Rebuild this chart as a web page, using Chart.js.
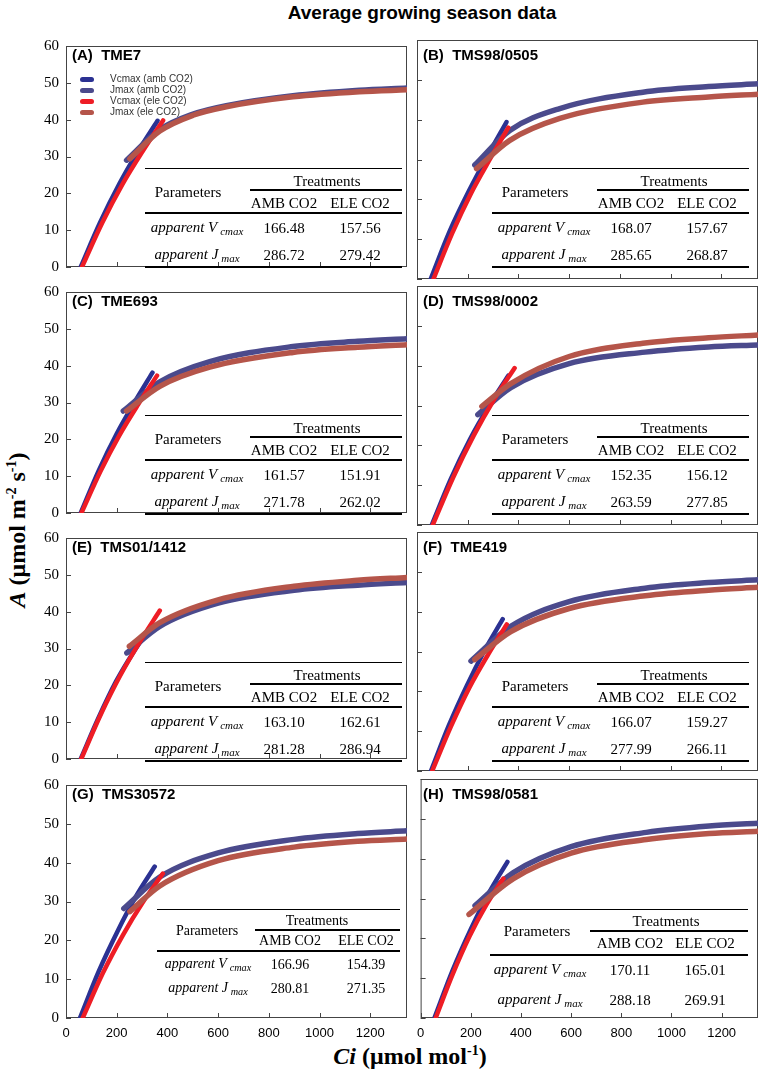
<!DOCTYPE html>
<html>
<head>
<meta charset="utf-8">
<script src="https://cdn.jsdelivr.net/npm/chart.js@4.4.1/dist/chart.umd.min.js"></script>
<style>
  body { margin: 0; background: #fff; }
  #wrap { position: relative; width: 762px; height: 1069px; overflow: hidden; font-family: "Liberation Serif", "Times New Roman", serif; color: #000; }
  canvas { position: absolute; }
  .c { position: absolute; white-space: nowrap; transform: translate(-50%, -50%); line-height: 1; }
  .rule { position: absolute; background: #000; }
  .tb { position: absolute; }
  .it { font-style: italic; }
  .sb { font-style: italic; font-size: 0.73em; position: relative; top: 0.27em; margin-left: 0.27em; }
  .plabel { position: absolute; font: bold 15px "Liberation Sans", Arial, sans-serif; white-space: pre; }
  .leg { position: absolute; font: 10px "Liberation Sans", Arial, sans-serif; color: #333; white-space: nowrap; }
  .legline { position: absolute; height: 5px; border-radius: 3px; }
  .title { position: absolute; font: bold 19px "Liberation Sans", Arial, sans-serif; white-space: nowrap; }
  .axt { position: absolute; font: bold 24px "Liberation Serif", "Times New Roman", serif; white-space: nowrap; }
  .axt sup { font-size: 14px; line-height: 0; }
</style>
</head>
<body>
<div id="wrap">
  <div class="c title" style="left:422px;top:13px;">Average growing season data</div>
  <div class="c axt" style="left:17px;top:530px;transform:translate(-50%,-50%) rotate(-90deg);"><i>A</i> (&mu;mol m<sup>-2</sup> s<sup>-1</sup>)</div>
  <div class="c axt" style="left:410px;top:1056px;"><i>Ci</i> (&mu;mol mol<sup>-1</sup>)</div>
</div>
<script>
// panel names and table values
const panelNames = ['(A)  TME7', '(B)  TMS98/0505', '(C)  TME693', '(D)  TMS98/0002',
                    '(E)  TMS01/1412', '(F)  TME419', '(G)  TMS30572', '(H)  TMS98/0581'];
const seriesNames = ['Vcmax (amb CO2)', 'Jmax (amb CO2)', 'Vcmax (ele CO2)', 'Jmax (ele CO2)'];
const treatmentNames = ['AMB CO2', 'ELE CO2'];
const vcmaxAmb = [166.48, 168.07, 161.57, 152.35, 163.10, 166.07, 166.96, 170.11];
const vcmaxEle = [157.56, 157.67, 151.91, 156.12, 162.61, 159.27, 154.39, 165.01];
const jmaxAmb = [286.72, 285.65, 271.78, 263.59, 281.28, 277.99, 280.81, 288.18];
const jmaxEle = [279.42, 268.87, 262.02, 277.85, 286.94, 266.11, 271.35, 269.91];

const xTicks = [0, 200, 400, 600, 800, 1000, 1200];
const yTicks = [0, 10, 20, 30, 40, 50, 60];

// fitted curves, [Ci, A] per panel
const vcAmbCurves = [
  [[58,0],[134,12],[210,22.5],[285,31.5],[361,39.7]],
  [[54,0],[129,12],[204,22],[279,31],[353,39.4]],
  [[58,0],[129,11.5],[200,21.5],[270,30],[341,38.1]],
  [[58,0],[133,11.5],[209,21.5],[285,30],[360,37.5]],
  [[58,0],[127,11],[197,21],[266,29],[335,36]],
  [[55,0],[126,11.5],[197,21.5],[267,30.3],[338,38.1]],
  [[55,0],[129,12],[203,22.3],[276,31.3],[350,39]],
  [[55,0],[128,12],[201,22.4],[273,31.5],[346,39.2]]
];
const vcEleCurves = [
  [[63,0],[143,12],[223,22.5],[303,31.5],[383,39.8]],
  [[65,0],[139,11.5],[213,21.5],[287,30],[360,38]],
  [[61,0],[136,11.3],[210,21],[285,29.5],[359,37.3]],
  [[62,0],[143,12],[224,22.5],[304,31.5],[385,39.4]],
  [[60,0],[138,12.2],[215,22.8],[293,32],[370,40.3]],
  [[60,0],[134,11.2],[207,21],[281,29.3],[354,36.8]],
  [[66,0],[145,11.5],[224,21.3],[303,29.8],[382,37.2]],
  [[60,0],[128,11],[195,20.5],[263,28.5],[330,35]]
];
const jAmbCurves = [
  [[239,29],[370,37.3],[501,41.5],[632,43.8],[895,46.5],[1157,48],[1345,48.6]],
  [[228,28.6],[366,37.3],[563,42.8],[891,46.9],[1150,48.3],[1345,49]],
  [[226,27.7],[370,35.6],[567,41.1],[895,45.2],[1150,46.6],[1345,47.3]],
  [[240,27.7],[370,34.5],[600,40.5],[900,43.4],[1150,44.7],[1345,45.2]],
  [[240,28.8],[370,36],[600,42.3],[900,45.8],[1150,47.2],[1345,47.9]],
  [[213,27.6],[370,36.3],[600,42.5],[900,45.9],[1150,47.3],[1345,48]],
  [[228,28.2],[370,36.3],[600,42.5],[900,46],[1150,47.5],[1345,48.2]],
  [[217,28.2],[370,36.5],[600,43],[900,46.6],[1150,48.2],[1345,48.9]]
];
const jEleCurves = [
  [[252,29.4],[370,36.9],[501,41.2],[632,43.5],[895,46.2],[1157,47.6],[1345,48.1]],
  [[235,27.7],[366,34.8],[563,40.3],[891,44.4],[1150,45.7],[1345,46.4]],
  [[239,27.7],[370,34.4],[567,39.6],[895,43.6],[1150,45],[1345,45.7]],
  [[256,29.8],[370,35.5],[600,42.3],[900,45.7],[1150,47],[1345,47.7]],
  [[250,30.6],[370,37],[600,43.2],[900,46.9],[1150,48.5],[1345,49.3]],
  [[228,28],[370,35],[600,40.8],[900,44],[1150,45.4],[1345,46.1]],
  [[252,27.4],[370,34],[600,40.5],[900,44],[1150,45.5],[1345,46.1]],
  [[193,26],[370,35],[600,41.4],[900,44.8],[1150,46.3],[1345,46.9]]
];

const colors = ['#2b3192', '#4b4a8c', '#ee1d25', '#b5554a'];
const widths = [4.5, 5.5, 4.5, 5.5];

// layout
const plotLeft = [66, 417];
const plotTop = [40, 286, 532, 779];
const plotW = 341, plotH = 239;
const tblPos = [[145,168],[492,168],[145,415],[492,415],[145,662],[492,662],[157,909],[490,909]];
const tblStd = { W: 257, fs: 15, trX: 182, trY: 13, ulX: 105, ulY: 21, paX: 43, paY: 24, c1: 139, c2: 215,
                 hdY: 35, hrY: 44, lbX: 52, r1: 60, r2: 87, btY: 98 };
const tblG = { W: 243, fs: 14, trX: 160, trY: 12, ulX: 98, ulY: 20, paX: 50, paY: 22, c1: 133, c2: 209,
               hdY: 32, hrY: 41, lbX: 51, r1: 56, r2: 80, btY: null };
const tblH = { W: 258, fs: 15, trX: 176, trY: 12, ulX: 100, ulY: 21, paX: 47, paY: 22, c1: 140, c2: 215,
               hdY: 34, hrY: 45, lbX: 50, r1: 61, r2: 91, btY: null };

const wrap = document.getElementById('wrap');

const frameTicks = {
  id: 'frameTicks',
  beforeDatasetsDraw(chart) {
    const { ctx, chartArea: a, scales } = chart;
    ctx.save();
    ctx.strokeStyle = '#444';
    ctx.lineWidth = 1;
    ctx.strokeRect(a.left + 0.5, a.top + 0.5, a.right - a.left - 1, a.bottom - a.top - 1);
    ctx.beginPath();
    xTicks.forEach(v => {
      const px = Math.round(scales.x.getPixelForValue(v)) + 0.5;
      ctx.moveTo(px, a.bottom); ctx.lineTo(px, a.bottom - 5);
    });
    yTicks.forEach(v => {
      const py = Math.round(scales.y.getPixelForValue(v)) + 0.5;
      ctx.moveTo(a.left, py); ctx.lineTo(a.left + 5, py);
    });
    ctx.stroke();
    ctx.restore();
  }
};

function toPts(arr) { return arr.map(p => ({ x: p[0], y: p[1] })); }

function buildChart(i) {
  const col = i % 2, row = Math.floor(i / 2);
  const yw = col === 0 ? 66 : 8;
  const xh = row === 3 ? 30 : 4;
  const w = yw + plotW + 6, h = 10 + plotH + xh;
  const cv = document.createElement('canvas');
  cv.width = w; cv.height = h;
  cv.style.left = (plotLeft[col] - yw) + 'px';
  cv.style.top = (plotTop[row] - 10) + 'px';
  cv.style.width = w + 'px'; cv.style.height = h + 'px';
  wrap.appendChild(cv);

  // last-listed series draws on top
  const curves = [jEleCurves[i], vcEleCurves[i], jAmbCurves[i], vcAmbCurves[i]];
  const idx = [3, 2, 1, 0];
  new Chart(cv, {
    type: 'line',
    data: {
      datasets: curves.map((c, k) => ({
        label: seriesNames[idx[k]],
        data: toPts(c),
        borderColor: colors[idx[k]],
        borderWidth: widths[idx[k]],
        borderCapStyle: 'round',
        pointRadius: 0,
        cubicInterpolationMode: 'monotone',
        fill: false
      }))
    },
    options: {
      responsive: false,
      animation: false,
      events: [],
      layout: { padding: { left: 0, right: 6, top: 10, bottom: 0 } },
      plugins: { legend: { display: false }, tooltip: { enabled: false } },
      scales: {
        x: {
          type: 'linear', min: 0, max: 1345,
          afterBuildTicks: s => { s.ticks = xTicks.map(v => ({ value: v })); },
          afterFit: s => { s.height = xh; },
          grid: { display: false, drawTicks: false },
          border: { display: false },
          ticks: { display: row === 3, padding: 8, color: '#000', maxRotation: 0,
                   callback: v => String(v),
                   font: { family: 'Liberation Sans', size: 13 } }
        },
        y: {
          type: 'linear', min: 0, max: 60,
          afterBuildTicks: s => { s.ticks = yTicks.map(v => ({ value: v })); },
          afterFit: s => { s.width = yw; },
          grid: { display: false, drawTicks: false },
          border: { display: false },
          ticks: { display: col === 0, padding: 7, color: '#000',
                   callback: v => String(v),
                   font: { family: 'Liberation Serif', size: 15 } }
        }
      }
    },
    plugins: [frameTicks]
  });

  const lab = document.createElement('div');
  lab.className = 'plabel';
  lab.style.left = (plotLeft[col] + 6) + 'px';
  lab.style.top = (plotTop[row] + 6) + 'px';
  lab.textContent = panelNames[i];
  wrap.appendChild(lab);
}

function addEl(parent, cls, html, x, y) {
  const d = document.createElement('div');
  d.className = cls;
  d.innerHTML = html;
  d.style.left = x + 'px';
  d.style.top = y + 'px';
  parent.appendChild(d);
  return d;
}
function addRule(parent, x, y, w, t) {
  const d = document.createElement('div');
  d.className = 'rule';
  d.style.left = x + 'px'; d.style.top = y + 'px';
  d.style.width = w + 'px'; d.style.height = t + 'px';
  parent.appendChild(d);
}

function buildTable(i) {
  const [L, T] = tblPos[i];
  const s = i === 6 ? tblG : i === 7 ? tblH : tblStd;
  const tb = document.createElement('div');
  tb.className = 'tb';
  tb.style.left = L + 'px'; tb.style.top = T + 'px';
  tb.style.fontSize = s.fs + 'px';
  wrap.appendChild(tb);
  addRule(tb, 0, 0, s.W, 1);
  addEl(tb, 'c', 'Treatments', s.trX, s.trY);
  addRule(tb, s.ulX, s.ulY, s.W - s.ulX, 2);
  addEl(tb, 'c', 'Parameters', s.paX, s.paY);
  addEl(tb, 'c', treatmentNames[0], s.c1, s.hdY);
  addEl(tb, 'c', treatmentNames[1], s.c2, s.hdY);
  addRule(tb, 0, s.hrY, s.W, 2);
  addEl(tb, 'c', '<span class="it">apparent V</span><span class="sb">cmax</span>', s.lbX, s.r1 - 1);
  addEl(tb, 'c', vcmaxAmb[i].toFixed(2), s.c1, s.r1);
  addEl(tb, 'c', vcmaxEle[i].toFixed(2), s.c2, s.r1);
  addEl(tb, 'c', '<span class="it">apparent J</span><span class="sb">max</span>', s.lbX, s.r2 - 1);
  addEl(tb, 'c', jmaxAmb[i].toFixed(2), s.c1, s.r2);
  addEl(tb, 'c', jmaxEle[i].toFixed(2), s.c2, s.r2);
  if (s.btY !== null) addRule(tb, 0, s.btY, s.W, 2);
}

function buildLegend() {
  const ys = [79, 90, 101, 112];
  seriesNames.forEach((n, k) => {
    const ln = document.createElement('div');
    ln.className = 'legline';
    ln.style.left = '80px'; ln.style.top = (ys[k] - 2.5) + 'px';
    ln.style.width = '14px'; ln.style.background = colors[k];
    wrap.appendChild(ln);
    const t = document.createElement('div');
    t.className = 'leg';
    t.style.left = '110px'; t.style.top = (ys[k] - 6) + 'px';
    t.textContent = n;
    wrap.appendChild(t);
  });
}

for (let i = 0; i < 8; i++) { buildChart(i); buildTable(i); }
buildLegend();
</script>
</body>
</html>
